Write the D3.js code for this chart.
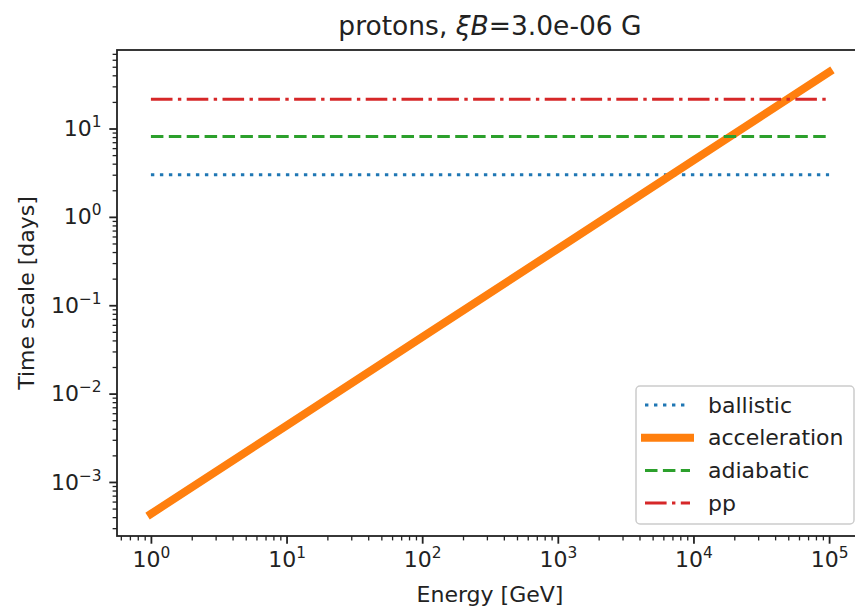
<!DOCTYPE html>
<html>
<head>
<meta charset="utf-8">
<script src="https://cdn.jsdelivr.net/npm/d3@7"></script>
<style>
body { margin: 0; background: #fff; }
svg text { font-family: "DejaVu Sans", sans-serif; fill: #222; }
.axis path, .axis line { stroke: #222; }
</style>
</head>
<body>
<div class="chart"></div>
<script>
// values (time scales in days)
var energy = [1, 10, 100, 1000, 10000, 100000];
var ballistic = [3.0, 3.0, 3.0, 3.0, 3.0, 3.0];
var acceleration = [0.000435, 0.00435, 0.0435, 0.435, 4.35, 43.5];
var adiabatic = [8.1, 8.1, 8.1, 8.1, 8.1, 8.1];
var pp = [21.5, 21.5, 21.5, 21.5, 21.5, 21.5];

var seriesNames = ["ballistic", "acceleration", "adiabatic", "pp"];
var xTicks = [1, 10, 100, 1000, 10000, 100000];
var xExp = ["0", "1", "2", "3", "4", "5"];
var yTicks = [0.001, 0.01, 0.1, 1, 10];
var yExp = ["\u22123", "\u22122", "\u22121", "0", "1"];

var styles = {
  ballistic:    {color: "#1f77b4", width: 3, dash: "3.4,5.6", cap: "butt"},
  acceleration: {color: "#ff7f0e", width: 8, dash: null, cap: "square"},
  adiabatic:    {color: "#2ca02c", width: 3, dash: "12.5,5.4", cap: "butt"},
  pp:           {color: "#d62728", width: 3, dash: "21.6,5.4,3.4,5.4", cap: "butt"}
};

var margin = {top: 50, right: -8, bottom: 71, left: 117},
    W = 855, H = 607,
    width = W - margin.left - margin.right,
    height = H - margin.top - margin.bottom;

var series = {ballistic: ballistic, acceleration: acceleration, adiabatic: adiabatic, pp: pp};

// matplotlib style 5% margin in log space
var allY = [].concat(ballistic, acceleration, adiabatic, pp);
var lx = d3.extent(energy, function(d) { return Math.log10(d); });
var ly = d3.extent(allY, function(d) { return Math.log10(d); });
var mx = (lx[1] - lx[0]) * 0.05, my = (ly[1] - ly[0]) * 0.05;

var x = d3.scaleLog().domain([Math.pow(10, lx[0] - mx), Math.pow(10, lx[1] + mx)]).range([0, width]);
var y = d3.scaleLog().domain([Math.pow(10, ly[0] - my), Math.pow(10, ly[1] + my)]).range([height, 0]);

var svg = d3.select(".chart").append("svg")
    .attr("width", W)
    .attr("height", H)
  .append("g")
    .attr("transform", "translate(" + margin.left + "," + margin.top + ")");

function minorTicks(scale) {
  var d = scale.domain(), out = [];
  for (var e = Math.floor(Math.log10(d[0])); e <= Math.ceil(Math.log10(d[1])); e++) {
    for (var k = 2; k <= 9; k++) {
      var v = k * Math.pow(10, e);
      if (v >= d[0] && v <= d[1]) out.push(v);
    }
  }
  return out;
}

// lines
var line = d3.line()
    .x(function(d) { return x(d[0]); })
    .y(function(d) { return y(d[1]); });

seriesNames.forEach(function(name) {
  var s = styles[name];
  svg.append("path")
      .datum(energy.map(function(e, i) { return [e, series[name][i]]; }))
      .attr("fill", "none")
      .attr("stroke", s.color)
      .attr("stroke-width", s.width)
      .attr("stroke-dasharray", s.dash)
      .attr("stroke-linecap", s.cap)
      .attr("d", line);
});

// axes
var tickFont = 22;
svg.append("g")
    .attr("class", "axis")
    .attr("transform", "translate(0," + height + ")")
    .call(d3.axisBottom(x).tickValues(minorTicks(x)).tickSize(4.4).tickFormat(""))
    .call(function(g) { g.select(".domain").remove(); g.selectAll("line").attr("stroke-width", 1.3); });

var xAxis = svg.append("g")
    .attr("class", "axis")
    .attr("transform", "translate(0," + height + ")")
    .call(d3.axisBottom(x).tickValues(xTicks).tickSize(7.7).tickPadding(7.7).tickFormat(""));
xAxis.select(".domain").remove();
xAxis.selectAll("line").attr("stroke-width", 1.8);
xAxis.selectAll("text").attr("font-size", tickFont).attr("fill", "#222")
  .each(function(d, i) {
    var t = d3.select(this);
    t.append("tspan").text("10");
    t.append("tspan").attr("font-size", tickFont * 0.7).attr("dy", -9).text(xExp[i]);
  });

svg.append("g")
    .attr("class", "axis")
    .call(d3.axisLeft(y).tickValues(minorTicks(y)).tickSize(4.4).tickFormat(""))
    .call(function(g) { g.select(".domain").remove(); g.selectAll("line").attr("stroke-width", 1.3); });

var yAxis = svg.append("g")
    .attr("class", "axis")
    .call(d3.axisLeft(y).tickValues(yTicks).tickSize(7.7).tickPadding(7.7).tickFormat(""));
yAxis.select(".domain").remove();
yAxis.selectAll("line").attr("stroke-width", 1.8);
yAxis.selectAll("text").attr("font-size", tickFont).attr("fill", "#222")
  .each(function(d, i) {
    var t = d3.select(this);
    t.append("tspan").text("10");
    t.append("tspan").attr("font-size", tickFont * 0.7).attr("dy", -9).text(yExp[i]);
  });

// frame
svg.append("rect")
    .attr("width", width)
    .attr("height", height)
    .attr("fill", "none")
    .attr("stroke", "#222")
    .attr("stroke-width", 1.8);

// labels
svg.append("text")
    .attr("x", width / 2)
    .attr("y", height + 66)
    .attr("text-anchor", "middle")
    .attr("font-size", 22)
    .text("Energy [GeV]");

svg.append("text")
    .attr("transform", "rotate(-90)")
    .attr("x", -height / 2)
    .attr("y", 34 - margin.left)
    .attr("text-anchor", "middle")
    .attr("font-size", 22)
    .text("Time scale [days]");

var title = svg.append("text")
    .attr("x", width / 2)
    .attr("y", -15)
    .attr("text-anchor", "middle")
    .attr("font-size", 26.5);
title.append("tspan").text("protons, ");
title.append("tspan").attr("font-style", "italic").text("\u03beB");
title.append("tspan").text("=3.0e-06 G");

// legend
var legend = svg.append("g")
    .attr("transform", "translate(" + (636 - margin.left) + "," + (386 - margin.top) + ")");

legend.append("rect")
    .attr("width", 218)
    .attr("height", 138)
    .attr("rx", 4)
    .attr("fill", "#fff")
    .attr("fill-opacity", 0.8)
    .attr("stroke", "#ccc")
    .attr("stroke-width", 1.5);

var item = legend.selectAll(".legend")
    .data(seriesNames)
  .enter().append("g")
    .attr("class", "legend")
    .attr("transform", function(d, i) { return "translate(0," + (19 + i * 32.7) + ")"; });

item.append("line")
    .attr("x1", 9)
    .attr("x2", 54)
    .attr("stroke", function(d) { return styles[d].color; })
    .attr("stroke-width", function(d) { return styles[d].width; })
    .attr("stroke-dasharray", function(d) { return styles[d].dash; })
    .attr("stroke-linecap", function(d) { return styles[d].cap; });

item.append("text")
    .attr("x", 72)
    .attr("dy", "0.35em")
    .attr("font-size", 22)
    .text(function(d) { return d; });
</script>
</body>
</html>
